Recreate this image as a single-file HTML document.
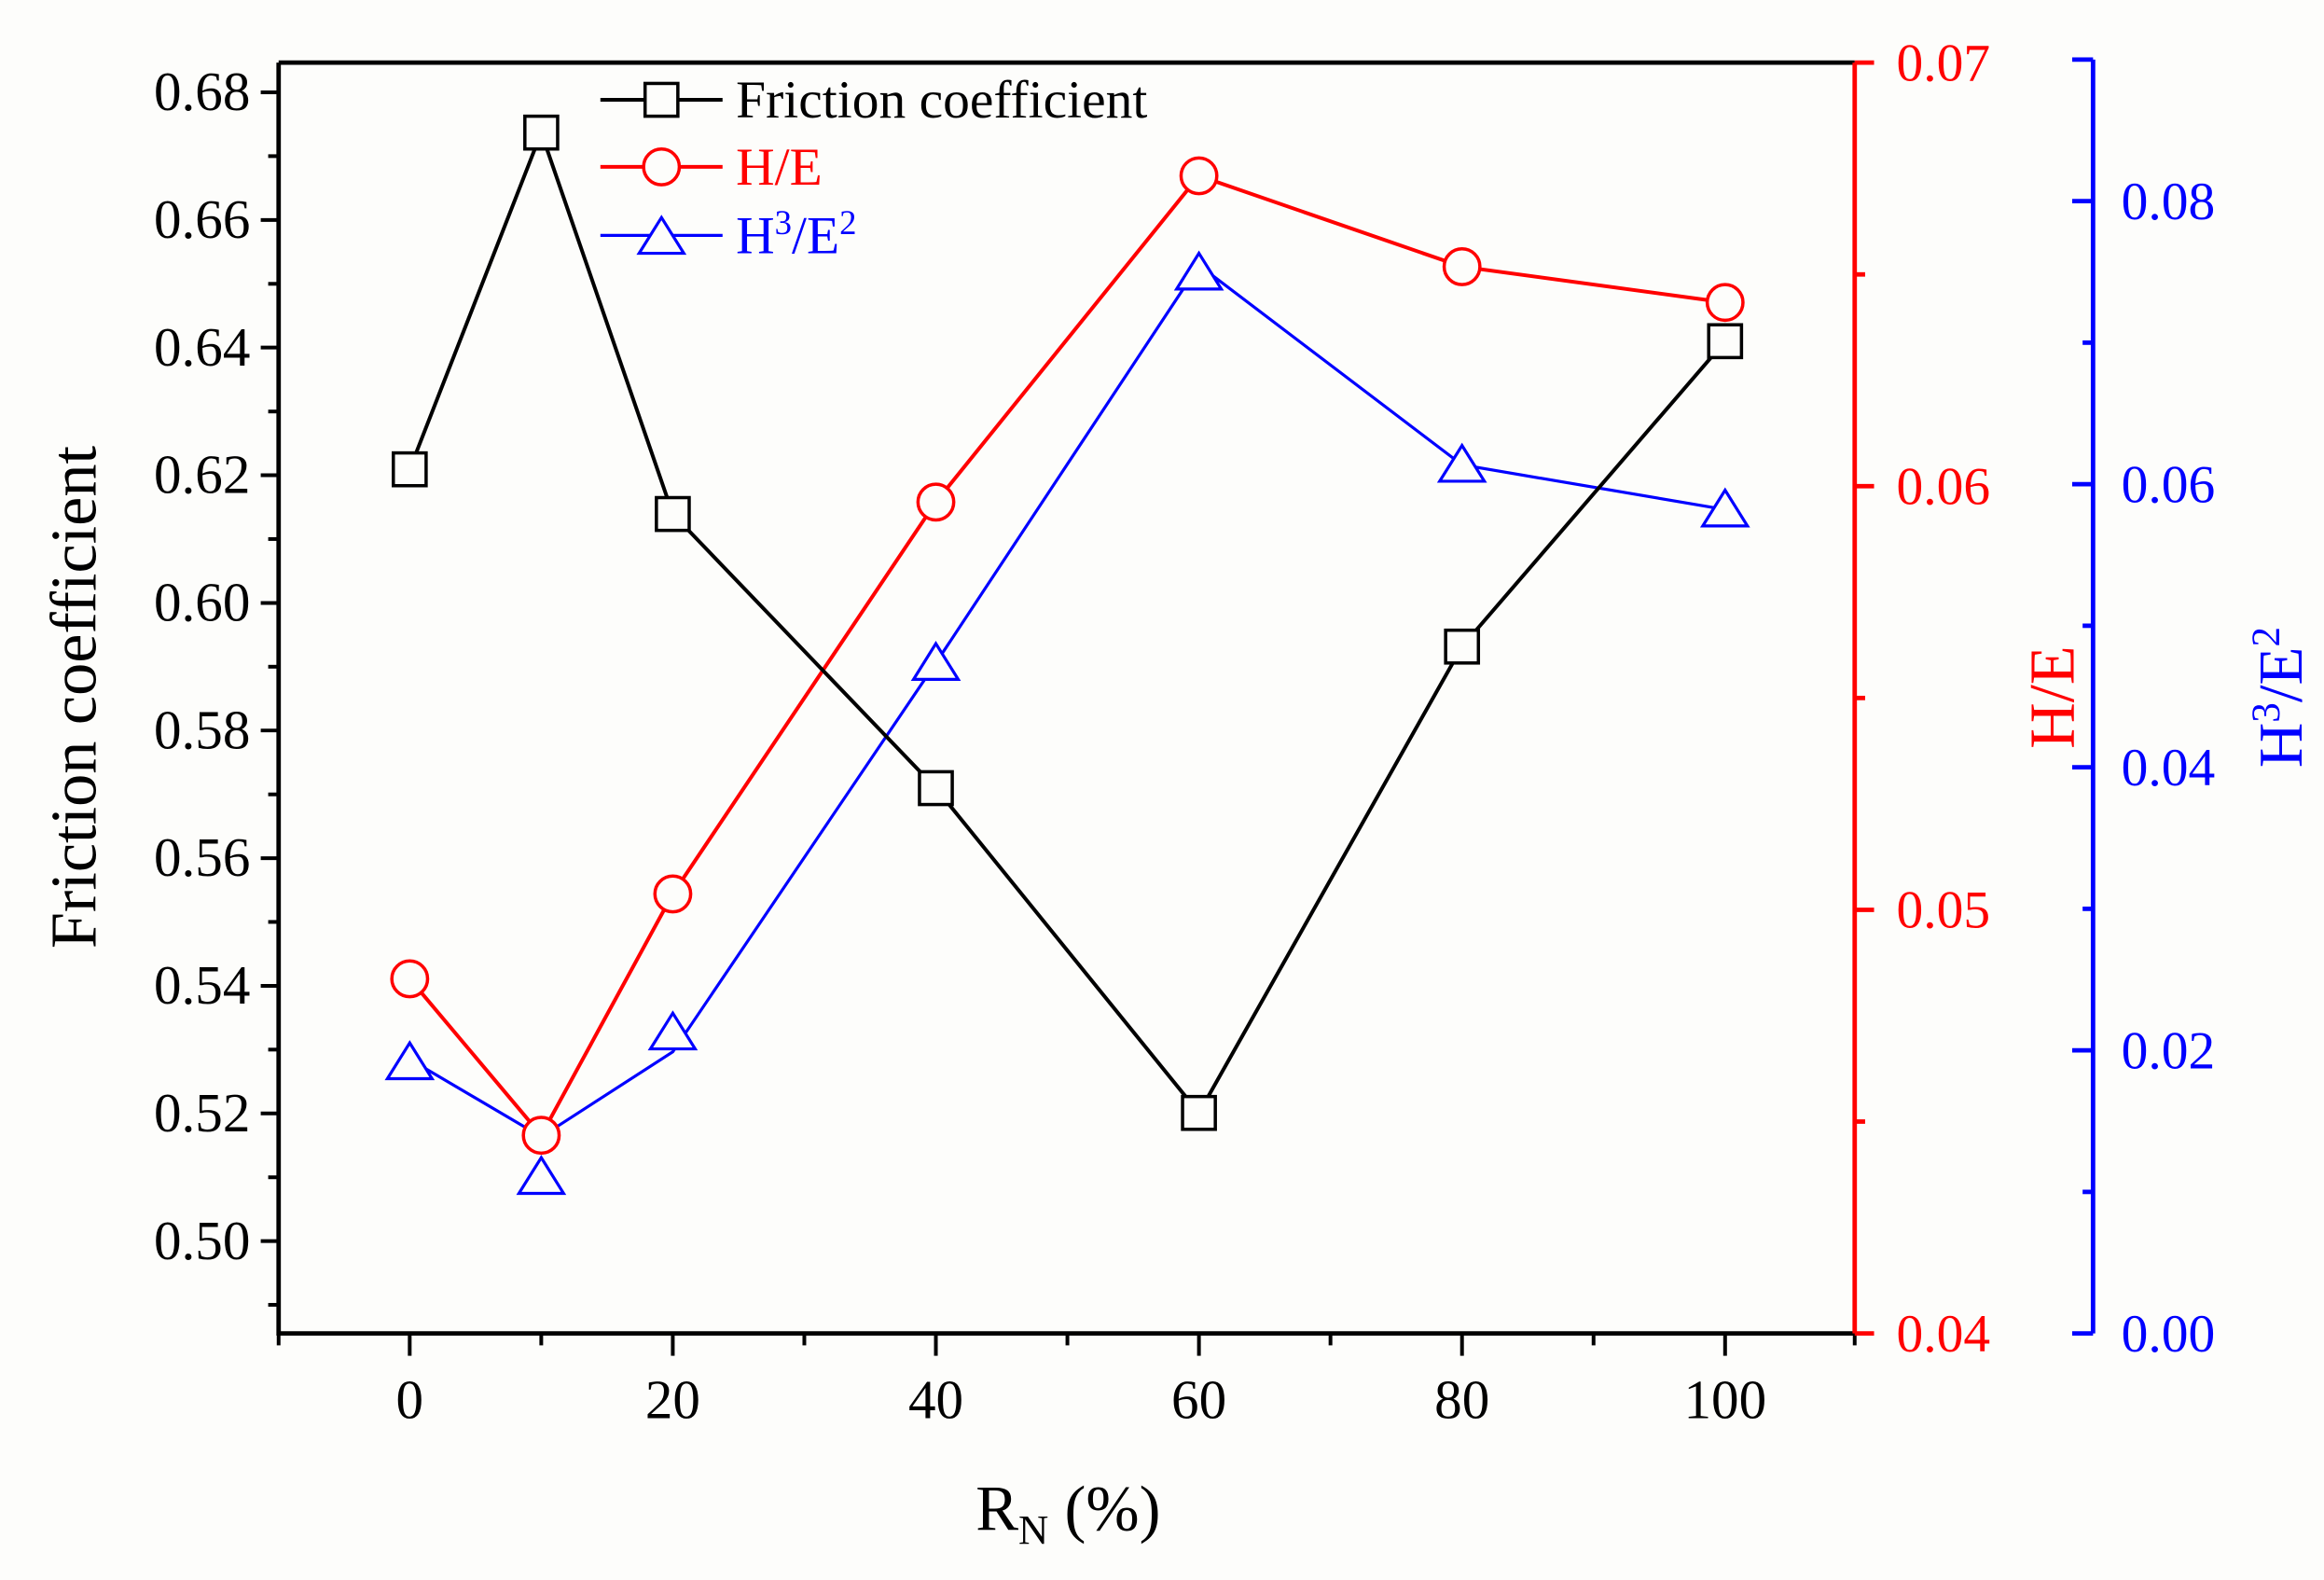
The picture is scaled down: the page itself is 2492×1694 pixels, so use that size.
<!DOCTYPE html>
<html><head><meta charset="utf-8"><style>
html,body{margin:0;padding:0;background:#fdfdfb;}
svg{display:block;}
text{font-family:"Liberation Serif",serif;}
</style></head><body>
<svg width="2492" height="1694" viewBox="0 0 1560 1060.5" xmlns="http://www.w3.org/2000/svg">
<rect width="1560" height="1060.5" fill="#fdfdfb"/>
<path d="M187,42 H1245 M187,42 V895 H1245" stroke="#000" stroke-width="3" fill="none"/>
<g stroke="#000" stroke-width="2.5">
<line x1="175" y1="62" x2="187" y2="62"/><line x1="175" y1="147.7" x2="187" y2="147.7"/><line x1="175" y1="233.3" x2="187" y2="233.3"/><line x1="175" y1="319" x2="187" y2="319"/><line x1="175" y1="404.7" x2="187" y2="404.7"/><line x1="175" y1="490.3" x2="187" y2="490.3"/><line x1="175" y1="576" x2="187" y2="576"/><line x1="175" y1="661.7" x2="187" y2="661.7"/><line x1="175" y1="747.3" x2="187" y2="747.3"/><line x1="175" y1="833" x2="187" y2="833"/>
<line x1="180" y1="104.8" x2="187" y2="104.8"/><line x1="180" y1="190.5" x2="187" y2="190.5"/><line x1="180" y1="276.2" x2="187" y2="276.2"/><line x1="180" y1="361.8" x2="187" y2="361.8"/><line x1="180" y1="447.5" x2="187" y2="447.5"/><line x1="180" y1="533.2" x2="187" y2="533.2"/><line x1="180" y1="618.8" x2="187" y2="618.8"/><line x1="180" y1="704.5" x2="187" y2="704.5"/><line x1="180" y1="790.2" x2="187" y2="790.2"/><line x1="180" y1="875.8" x2="187" y2="875.8"/>
<line x1="275" y1="895" x2="275" y2="910"/><line x1="451.6" y1="895" x2="451.6" y2="910"/><line x1="628.2" y1="895" x2="628.2" y2="910"/><line x1="804.8" y1="895" x2="804.8" y2="910"/><line x1="981.4" y1="895" x2="981.4" y2="910"/><line x1="1158" y1="895" x2="1158" y2="910"/>
<line x1="187" y1="895" x2="187" y2="903"/><line x1="363.3" y1="895" x2="363.3" y2="903"/><line x1="539.9" y1="895" x2="539.9" y2="903"/><line x1="716.5" y1="895" x2="716.5" y2="903"/><line x1="893.1" y1="895" x2="893.1" y2="903"/><line x1="1069.7" y1="895" x2="1069.7" y2="903"/><line x1="1245" y1="895" x2="1245" y2="903"/>
</g>
<g font-size="37" text-anchor="end" fill="#000">
<text x="168" y="74">0.68</text><text x="168" y="159.7">0.66</text><text x="168" y="245.3">0.64</text><text x="168" y="331">0.62</text><text x="168" y="416.7">0.60</text><text x="168" y="502.3">0.58</text><text x="168" y="588">0.56</text><text x="168" y="673.7">0.54</text><text x="168" y="759.3">0.52</text><text x="168" y="845">0.50</text>
</g>
<g font-size="37" text-anchor="middle" fill="#000">
<text x="275" y="952">0</text><text x="451.6" y="952">20</text><text x="628.2" y="952">40</text><text x="804.8" y="952">60</text><text x="981.4" y="952">80</text><text x="1158" y="952">100</text>
</g>
<text x="717" y="1027" font-size="43" text-anchor="middle">R<tspan font-size="28" dy="9">N</tspan><tspan dy="-9"> (%)</tspan></text>
<text transform="translate(64,468) rotate(-90)" font-size="44" text-anchor="middle">Friction coefficient</text>
<path d="M1245,42 V895" stroke="#ff0000" stroke-width="3"/>
<g stroke="#ff0000" stroke-width="3">
<line x1="1245" y1="42" x2="1258" y2="42"/><line x1="1245" y1="326.3" x2="1258" y2="326.3"/><line x1="1245" y1="610.7" x2="1258" y2="610.7"/><line x1="1245" y1="895" x2="1258" y2="895"/>
<line x1="1245" y1="184.2" x2="1252" y2="184.2"/><line x1="1245" y1="468.5" x2="1252" y2="468.5"/><line x1="1245" y1="752.8" x2="1252" y2="752.8"/>
</g>
<g font-size="36" fill="#ff0000">
<text x="1273" y="54">0.07</text><text x="1273" y="338.3">0.06</text><text x="1273" y="622.7">0.05</text><text x="1273" y="907">0.04</text>
</g>
<text transform="translate(1392,468) rotate(-90)" font-size="43" text-anchor="middle" fill="#ff0000">H/E</text>
<path d="M1405,40 V895" stroke="#0000ff" stroke-width="3"/>
<g stroke="#0000ff" stroke-width="3">
<line x1="1391" y1="40" x2="1405" y2="40"/>
<line x1="1391" y1="135" x2="1405" y2="135"/><line x1="1391" y1="325" x2="1405" y2="325"/><line x1="1391" y1="515" x2="1405" y2="515"/><line x1="1391" y1="705" x2="1405" y2="705"/><line x1="1391" y1="895" x2="1405" y2="895"/>
<line x1="1398" y1="230" x2="1405" y2="230"/><line x1="1398" y1="420" x2="1405" y2="420"/><line x1="1398" y1="610" x2="1405" y2="610"/><line x1="1398" y1="800" x2="1405" y2="800"/>
</g>
<g font-size="36" fill="#0000ff">
<text x="1424" y="147">0.08</text><text x="1424" y="337">0.06</text><text x="1424" y="527">0.04</text><text x="1424" y="717">0.02</text><text x="1424" y="907">0.00</text>
</g>
<text transform="translate(1545,468) rotate(-90)" font-size="42" text-anchor="middle" fill="#0000ff">H<tspan font-size="27" dy="-15">3</tspan><tspan dy="15">/E</tspan><tspan font-size="27" dy="-15">2</tspan></text>
<polyline points="275,711 363.3,763 451.6,706 628.2,445 804.8,178 981.4,312 1158,342" fill="none" stroke="#0000ff" stroke-width="2"/>
<polyline points="275,657 363.3,762 451.6,600 628.2,337 804.8,118 981.4,179 1158,203" fill="none" stroke="#ff0000" stroke-width="2.5"/>
<polyline points="275,315 363.3,89 451.6,345 628.2,529 804.8,747 981.4,434 1158,229" fill="none" stroke="#000" stroke-width="2.5"/>
<g fill="#fdfdfb" stroke="#0000ff" stroke-width="2">
<polygon points="275,700 290,724 260,724"/><polygon points="363.3,777 378.3,801 348.3,801"/><polygon points="451.6,680 466.6,704 436.6,704"/><polygon points="628.2,432 643.2,456 613.2,456"/><polygon points="804.8,170 819.8,194 789.8,194"/><polygon points="981.4,299 996.4,323 966.4,323"/><polygon points="1158,329 1173,353 1143,353"/>
</g>
<g fill="#fdfdfb" stroke="#ff0000" stroke-width="2.2">
<circle cx="275" cy="657" r="12"/><circle cx="363.3" cy="762" r="12"/><circle cx="451.6" cy="600" r="12"/><circle cx="628.2" cy="337" r="12"/><circle cx="804.8" cy="118" r="12"/><circle cx="981.4" cy="179" r="12"/><circle cx="1158" cy="203" r="12"/>
</g>
<g fill="#fdfdfb" stroke="#000" stroke-width="2.2">
<rect x="264" y="304" width="22" height="22"/><rect x="352.3" y="78" width="22" height="22"/><rect x="440.6" y="334" width="22" height="22"/><rect x="617.2" y="518" width="22" height="22"/><rect x="793.8" y="736" width="22" height="22"/><rect x="970.4" y="423" width="22" height="22"/><rect x="1147" y="218" width="22" height="22"/>
</g>
<line x1="403" y1="67" x2="485" y2="67" stroke="#000" stroke-width="2.5"/>
<rect x="433" y="56" width="22" height="22" fill="#fdfdfb" stroke="#000" stroke-width="2.2"/>
<text x="494" y="79" font-size="36">Friction coefficient</text>
<line x1="403" y1="112" x2="485" y2="112" stroke="#ff0000" stroke-width="2.5"/>
<circle cx="444" cy="112" r="12" fill="#fdfdfb" stroke="#ff0000" stroke-width="2.2"/>
<text x="494" y="124" font-size="36" fill="#ff0000">H/E</text>
<line x1="403" y1="158" x2="485" y2="158" stroke="#0000ff" stroke-width="2"/>
<polygon points="444,146 459,170 429,170" fill="#fdfdfb" stroke="#0000ff" stroke-width="2"/>
<text x="494" y="170" font-size="36" fill="#0000ff">H<tspan font-size="23" dy="-13">3</tspan><tspan dy="13">/E</tspan><tspan font-size="23" dy="-13">2</tspan></text>
</svg>
</body></html>
